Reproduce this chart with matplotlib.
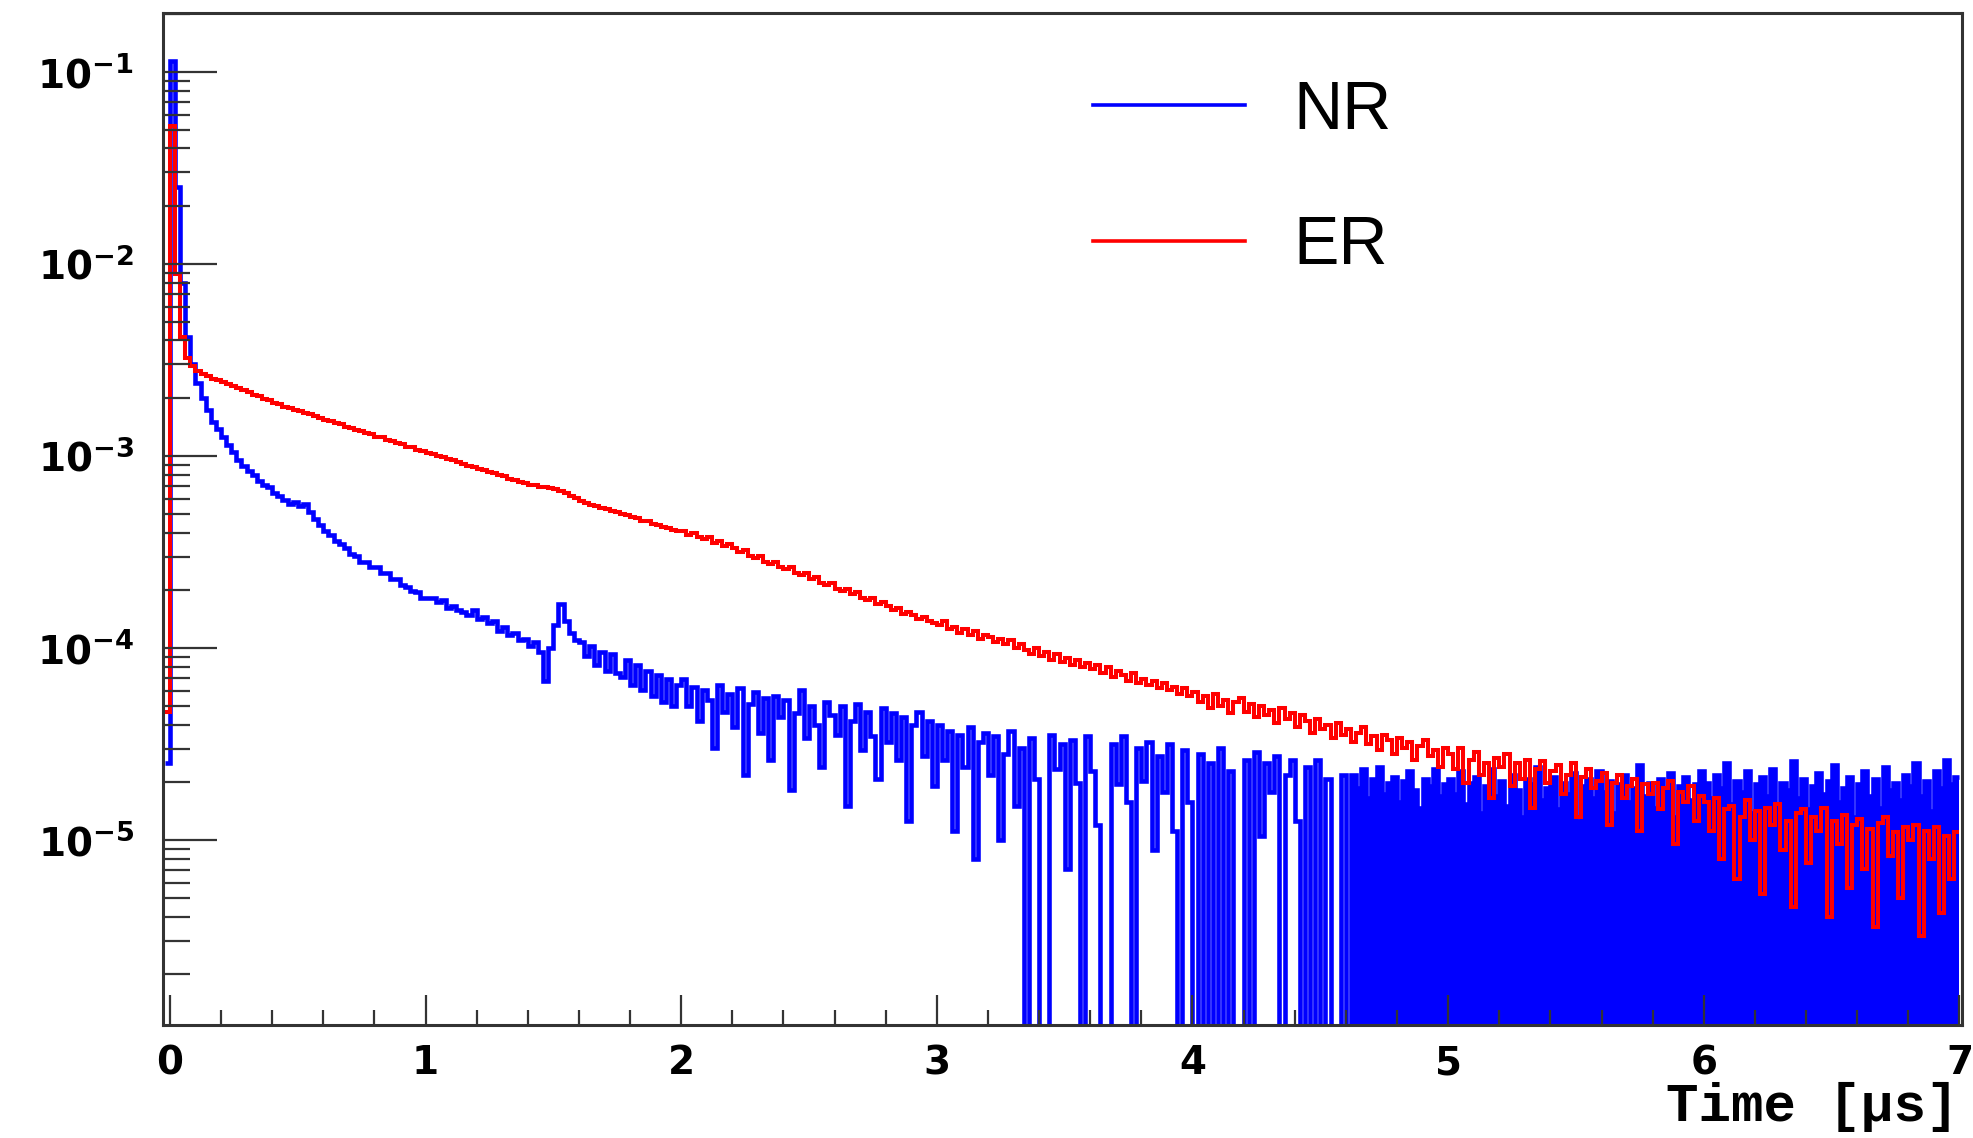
import numpy as np
import matplotlib
matplotlib.use("Agg")
import matplotlib.pyplot as plt
from matplotlib.lines import Line2D
from matplotlib.ticker import MultipleLocator, LogLocator, NullFormatter, FuncFormatter

BLUE, RED, AXC = "#0000ff", "#ff0000", "#333333"
plt.rcParams.update({"mathtext.fontset": "dejavusans"})

# 20 ns bins, first bin sits just before t = 0
BIN_WIDTH = 0.02
T_FIRST = -0.02

# log10 of normalised counts per bin; -9 = empty bin
NR_PRE = [-4.60]
NR_0 = [-0.94, -1.60, -2.10, -2.38, -2.52, -2.62, -2.70, -2.76, -2.82, -2.86,
        -2.90, -2.94, -2.98, -3.02, -3.05, -3.08, -3.10, -3.13, -3.15, -3.16,
        -3.19, -3.21, -3.23, -3.25, -3.24, -3.26, -3.25, -3.29, -3.33, -3.36,
        -3.39, -3.41, -3.44, -3.46, -3.48, -3.51, -3.52, -3.55, -3.55, -3.58,
        -3.58, -3.61, -3.61, -3.64, -3.64, -3.67, -3.68, -3.70, -3.71, -3.74]
NR_1 = [-3.74, -3.74, -3.76, -3.75, -3.79, -3.78, -3.80, -3.81, -3.83, -3.80,
        -3.85, -3.84, -3.87, -3.86, -3.91, -3.89, -3.93, -3.92, -3.96, -3.95,
        -3.99, -3.97, -4.02, -4.17, -4.00, -3.88, -3.77, -3.86, -3.92, -3.96,
        -3.97, -4.04, -3.99, -4.09, -4.02, -4.12, -4.03, -4.13, -4.15, -4.06,
        -4.19, -4.09, -4.22, -4.12, -4.25, -4.14, -4.28, -4.16, -4.30, -4.19]
NR_2 = [-4.16, -4.30, -4.20, -4.38, -4.22, -4.27, -4.52, -4.19, -4.33, -4.24,
        -4.41, -4.21, -4.66, -4.29, -4.23, -4.44, -4.26, -4.58, -4.25, -4.36,
        -4.27, -4.74, -4.34, -4.22, -4.47, -4.30, -4.40, -4.62, -4.28, -4.35,
        -4.45, -4.30, -4.82, -4.38, -4.29, -4.53, -4.33, -4.46, -4.68, -4.31,
        -4.49, -4.34, -4.58, -4.36, -4.90, -4.40, -4.33, -4.56, -4.38, -4.72]
NR_3 = [-4.40, -4.58, -4.43, -4.95, -4.45, -4.62, -4.41, -5.10, -4.49, -4.44,
        -4.66, -4.46, -5.00, -4.55, -4.43, -4.82, -4.52, -9, -4.47, -4.68,
        -9, -9, -4.45, -4.63, -4.50, -5.15, -4.48, -4.70, -9, -4.46,
        -4.64, -4.92, -9, -9, -4.50, -4.71, -4.46, -4.80, -9, -4.52,
        -4.69, -4.49, -5.05, -4.56, -4.75, -4.50, -4.95, -9, -4.53, -4.80]
NR_4 = [-9, -4.55, -9, -4.60, -9, -4.52, -9, -4.64, -9, -9,
        -4.58, -9, -4.54, -4.98, -4.60, -4.75, -4.56, -9, -4.66, -4.58,
        -4.90, -9, -4.62, -9, -4.58, -9, -4.68, -9, -9, -4.66,
        -9, -4.66, -4.73, -4.63, -4.78, -4.68, -4.62, -4.76, -4.70, -4.67,
        -4.80, -4.69, -4.64, -4.74, -4.83, -4.68, -4.72, -4.63, -4.77, -4.71]
NR_5 = [-4.68, -4.76, -4.64, -4.81, -4.70, -4.67, -4.86, -4.72, -4.63, -4.77,
        -4.69, -4.82, -4.66, -4.74, -4.88, -4.68, -4.71, -4.62, -4.79, -4.73,
        -4.67, -4.84, -4.70, -4.76, -4.65, -4.90, -4.72, -4.68, -4.78, -4.64,
        -4.75, -4.69, -4.86, -4.71, -4.66, -4.80, -4.73, -4.61, -4.77, -4.70,
        -4.83, -4.68, -4.74, -4.65, -4.88, -4.72, -4.67, -4.79, -4.71, -4.64]
NR_6 = [-4.70, -4.78, -4.66, -4.73, -4.60, -4.81, -4.69, -4.75, -4.64, -4.86,
        -4.71, -4.67, -4.77, -4.63, -4.82, -4.70, -4.74, -4.59, -4.78, -4.68,
        -4.84, -4.72, -4.65, -4.76, -4.69, -4.61, -4.80, -4.73, -4.67, -4.88,
        -4.71, -4.64, -4.77, -4.68, -4.83, -4.62, -4.74, -4.70, -4.79, -4.66,
        -4.72, -4.60, -4.77, -4.69, -4.85, -4.64, -4.73, -4.58, -4.71, -4.67]

ER_PRE = [-4.33]
ER_0 = [-1.28, -2.05, -2.38, -2.49, -2.53, -2.555, -2.575, -2.585, -2.597, -2.604,
        -2.616, -2.622, -2.636, -2.644, -2.657, -2.666, -2.680, -2.688, -2.701, -2.710,
        -2.723, -2.731, -2.744, -2.750, -2.760, -2.766, -2.777, -2.782, -2.793, -2.799,
        -2.810, -2.817, -2.829, -2.835, -2.848, -2.855, -2.865, -2.871, -2.882, -2.887,
        -2.898, -2.903, -2.914, -2.920, -2.932, -2.938, -2.950, -2.955, -2.967, -2.973]
ER_1 = [-2.983, -2.989, -3.000, -3.006, -3.017, -3.022, -3.032, -3.039, -3.049, -3.055,
        -3.065, -3.072, -3.082, -3.089, -3.100, -3.105, -3.118, -3.123, -3.134, -3.139,
        -3.149, -3.153, -3.160, -3.162, -3.166, -3.171, -3.183, -3.194, -3.209, -3.218,
        -3.233, -3.242, -3.253, -3.259, -3.269, -3.276, -3.287, -3.292, -3.303, -3.308,
        -3.319, -3.324, -3.336, -3.340, -3.352, -3.357, -3.368, -3.373, -3.385, -3.390]
ER_2 = [-3.39, -3.41, -3.40, -3.42, -3.43, -3.42, -3.45, -3.44, -3.47, -3.46,
        -3.48, -3.50, -3.49, -3.52, -3.53, -3.52, -3.55, -3.56, -3.55, -3.58,
        -3.59, -3.58, -3.61, -3.62, -3.61, -3.64, -3.63, -3.66, -3.67, -3.66,
        -3.69, -3.70, -3.69, -3.72, -3.71, -3.74, -3.75, -3.74, -3.77, -3.76,
        -3.78, -3.80, -3.79, -3.82, -3.81, -3.83, -3.85, -3.84, -3.86, -3.87]
ER_3 = [-3.88, -3.86, -3.90, -3.89, -3.92, -3.90, -3.93, -3.91, -3.95, -3.93,
        -3.94, -3.97, -3.95, -3.98, -3.96, -4.00, -3.98, -4.01, -4.03, -4.00,
        -4.04, -4.02, -4.06, -4.03, -4.07, -4.05, -4.09, -4.06, -4.10, -4.08,
        -4.11, -4.09, -4.13, -4.10, -4.15, -4.12, -4.14, -4.17, -4.13, -4.18,
        -4.16, -4.19, -4.17, -4.21, -4.18, -4.22, -4.20, -4.24, -4.21, -4.25]
ER_4 = [-4.23, -4.28, -4.25, -4.31, -4.24, -4.30, -4.27, -4.34, -4.28, -4.26,
        -4.33, -4.29, -4.36, -4.30, -4.35, -4.32, -4.39, -4.31, -4.37, -4.34,
        -4.41, -4.35, -4.38, -4.44, -4.37, -4.42, -4.40, -4.47, -4.39, -4.45,
        -4.42, -4.49, -4.44, -4.41, -4.50, -4.46, -4.53, -4.45, -4.48, -4.55,
        -4.47, -4.52, -4.49, -4.58, -4.51, -4.48, -4.56, -4.53, -4.62, -4.52]
ER_5 = [-4.55, -4.63, -4.52, -4.70, -4.58, -4.54, -4.66, -4.60, -4.78, -4.57,
        -4.62, -4.55, -4.72, -4.60, -4.68, -4.58, -4.83, -4.63, -4.59, -4.70,
        -4.64, -4.61, -4.76, -4.66, -4.60, -4.88, -4.67, -4.63, -4.73, -4.69,
        -4.65, -4.92, -4.70, -4.66, -4.78, -4.72, -4.68, -4.95, -4.71, -4.76,
        -4.70, -4.84, -4.73, -4.69, -5.02, -4.75, -4.80, -4.72, -4.90, -4.77]
ER_6 = [-4.80, -4.95, -4.78, -5.10, -4.84, -4.82, -5.20, -4.88, -4.79, -5.00,
        -4.85, -5.28, -4.83, -4.92, -4.81, -5.05, -4.90, -5.35, -4.86, -4.84,
        -5.12, -4.88, -4.95, -4.83, -5.40, -4.90, -5.02, -4.87, -5.25, -4.92,
        -4.89, -5.15, -4.94, -5.45, -4.91, -4.88, -5.08, -4.96, -5.30, -4.93,
        -5.00, -4.92, -5.50, -4.95, -5.10, -4.93, -5.38, -4.98, -5.20, -4.96]

NR_SOLID_FROM = 4.62   # beyond this the NR trace is drawn as a solid block
XLIM = (-0.027, 7.01)
YLIM = (1.09e-6, 0.203)

nr = 10.0 ** np.array(NR_PRE + NR_0 + NR_1 + NR_2 + NR_3 + NR_4 + NR_5 + NR_6)
er = 10.0 ** np.array(ER_PRE + ER_0 + ER_1 + ER_2 + ER_3 + ER_4 + ER_5 + ER_6)
edges = T_FIRST + BIN_WIDTH * np.arange(len(nr) + 1)

W, H = 1973, 1138
fig = plt.figure(figsize=(W / 100, H / 100), dpi=100)
ax = fig.add_axes([163 / W, 1 - 1025 / H, (1962 - 163) / W, (1025 - 13) / H])
ax.set_yscale("log")

ax.stairs(nr, edges, baseline=None, color=BLUE, lw=3.3)
k = int(np.searchsorted(edges, NR_SOLID_FROM - 1e-9))
ax.stairs(nr[k:], edges[k:], baseline=1e-9, fill=True, color=BLUE, lw=0)
ax.stairs(er, edges, baseline=None, color=RED, lw=2.9)

ax.set_xlim(*XLIM)
ax.set_ylim(*YLIM)

ax.xaxis.set_major_locator(MultipleLocator(1))
ax.xaxis.set_minor_locator(MultipleLocator(0.2))
ax.xaxis.set_major_formatter(FuncFormatter(lambda v, _: f"{v:.0f}"))
ax.yaxis.set_major_locator(LogLocator(base=10, numticks=20))
ax.yaxis.set_minor_locator(LogLocator(base=10, subs=np.arange(2, 10), numticks=20))
ax.yaxis.set_minor_formatter(NullFormatter())
ax.yaxis.set_major_formatter(FuncFormatter(
    lambda v, _: r"$\mathbf{10^{%d}}$" % int(round(np.log10(v)))))

ax.tick_params(axis="y", which="major", direction="in", length=39, width=1.6,
               color=AXC, pad=21, labelsize=28, right=False)
ax.tick_params(axis="y", which="minor", direction="in", length=19.5, width=1.6,
               color=AXC, right=False)
ax.tick_params(axis="x", which="major", direction="in", length=21.6, width=1.6,
               color=AXC, pad=14, labelsize=28, top=False)
ax.tick_params(axis="x", which="minor", direction="in", length=10.8, width=1.6,
               color=AXC, top=False)
for lbl in ax.get_xticklabels():
    lbl.set_fontweight("bold")
for sp in ax.spines.values():
    sp.set_linewidth(2.2)
    sp.set_color(AXC)

ax.set_xlabel("Time [µs]", fontfamily="Liberation Mono", fontweight="bold",
              fontsize=39, ha="right", va="baseline")
ax.xaxis.set_label_coords((1958 - 163) / 1799, (1025 - 1121) / 1012)

handles = [Line2D([], [], color=BLUE, lw=2.6), Line2D([], [], color=RED, lw=2.6)]
ax.legend(handles, ["NR", "ER"], loc="upper left",
          bbox_to_anchor=(1093 / W, 1 - 79 / H), bbox_transform=fig.transFigure,
          frameon=False, borderpad=0, borderaxespad=0, handlelength=2.23,
          handletextpad=0.72, labelspacing=1.05,
          prop={"family": "Liberation Sans", "size": 49})

fig.savefig("out.png", dpi=100)
